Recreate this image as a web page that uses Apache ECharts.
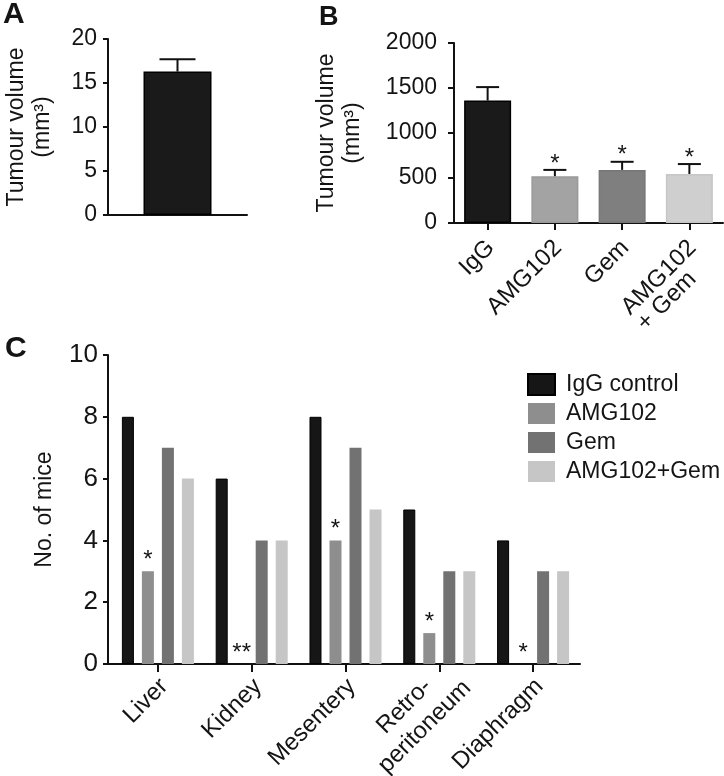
<!DOCTYPE html>
<html><head><meta charset="utf-8">
<script src="https://cdn.jsdelivr.net/npm/echarts@6/dist/echarts.min.js"></script>
<style>html,body{margin:0;padding:0;background:#fff}#c{width:724px;height:776px}</style>
</head><body><div id="c"></div>
<script>
// ---------- data ----------
const catA = ['Tumour'];
const meanA = [16.3];
const semA = [1.4];
const ticksA = [0, 5, 10, 15, 20];

const catB = ['IgG', 'AMG102', 'Gem', 'AMG102\n+ Gem'];
const meanB = [1360, 520, 590, 545];
const semB = [150, 70, 90, 110];
const sigB = ['', '*', '*', '*'];
const ticksB = [0, 500, 1000, 1500, 2000];

const organs = ['Liver', 'Kidney', 'Mesentery', 'Retro-\nperitoneum', 'Diaphragm'];
const seriesNames = ['IgG control', 'AMG102', 'Gem', 'AMG102+Gem'];
const iggC = [8, 6, 8, 5, 4];
const amgC = [3, 0, 4, 1, 0];
const gemC = [7, 4, 7, 3, 3];
const comboC = [6, 4, 5, 3, 3];
const sigC = ['*', '**', '*', '*', '*'];
const ticksC = [0, 2, 4, 6, 8, 10];

// ---------- styles ----------
const FONT = "'Liberation Sans', Arial, Helvetica, sans-serif";
const TXT = '#141414';
const LINE = '#111';
const colorsB = ['#1a1a1a', '#a3a3a3', '#7f7f7f', '#cfcfcf'];
const bordersB = ['#000', '#999', '#777', '#c6c6c6'];
const colorsC = ['#161616', '#8e8e8e', '#727272', '#c6c6c6'];

function range(t) { return { min: t[0], max: t[t.length - 1], interval: t[1] - t[0] }; }
const axisLine = { show: true, lineStyle: { color: LINE, width: 2 } };
const yTick = { show: true, length: 5, lineStyle: { color: LINE, width: 2 } };

function multi(v) { return v.split('\n').map(s => '{c|' + s + '}').join('\n'); }
// per-label nudges (label style only)
function catItems(list, special, pad, padSpecial) {
  return list.map(v => ({ value: v, textStyle: { padding: v === special ? padSpecial : pad } }));
}

function errRender(capW, marks) {
  return function (params, api) {
    const i = api.value(0), m = api.value(1), e = api.value(2);
    const p0 = api.coord([i, m]);
    const p1 = api.coord([i, m + e]);
    const ls = { stroke: LINE, lineWidth: 2 };
    const ch = [
      { type: 'line', shape: { x1: p0[0], y1: p0[1], x2: p1[0], y2: p1[1] }, style: ls },
      { type: 'line', shape: { x1: p1[0] - capW / 2, y1: p1[1], x2: p1[0] + capW / 2, y2: p1[1] }, style: ls }
    ];
    const s = marks && marks[params.dataIndex];
    if (s) ch.push({ type: 'text', x: p1[0], y: p1[1] - 6,
      style: { text: s, fill: TXT, font: '24px ' + FONT, align: 'center', verticalAlign: 'middle' } });
    return { type: 'group', children: ch };
  };
}

const chart = echarts.init(document.getElementById('c'), null, { renderer: 'canvas' });
const option = {
  backgroundColor: '#fff',
  animation: false,
  textStyle: { fontFamily: FONT, color: TXT },
  graphic: [
    { type: 'text', left: 3, top: 0, style: { text: 'A', font: 'bold 30px ' + FONT, fill: TXT } },
    { type: 'text', left: 319, top: 4, style: { text: 'B', font: 'bold 27px ' + FONT, fill: TXT } },
    { type: 'text', left: 5, top: 334, style: { text: 'C', font: 'bold 30px ' + FONT, fill: TXT } },
    // small extensions of the x axis lines to the left of the y axes
    { type: 'line', shape: { x1: 104, y1: 215, x2: 109, y2: 215 }, style: { stroke: LINE, lineWidth: 2 } },
    { type: 'line', shape: { x1: 448, y1: 223, x2: 455, y2: 223 }, style: { stroke: LINE, lineWidth: 2 } },
    { type: 'line', shape: { x1: 104, y1: 664, x2: 112, y2: 664 }, style: { stroke: LINE, lineWidth: 2 } }
  ],
  legend: {
    data: seriesNames, orient: 'vertical', left: 527, top: 373, padding: 0,
    itemWidth: 27, itemHeight: 21, itemGap: 6, icon: 'rect',
    textStyle: { fontSize: 23, fontFamily: FONT, color: TXT, lineHeight: 21, padding: [0, 0, 0, 6] }
  },
  grid: [
    { left: 108, top: 39, width: 139, height: 176, outerBoundsMode: 'none', containLabel: false },
    { left: 454, top: 43, width: 269, height: 180, outerBoundsMode: 'none', containLabel: false },
    { left: 111, top: 355, width: 469, height: 309, outerBoundsMode: 'none', containLabel: false }
  ],
  xAxis: [
    { gridIndex: 0, type: 'category', data: catA, axisLine: axisLine, axisTick: { show: false }, axisLabel: { show: false } },
    { gridIndex: 1, type: 'category', data: catItems(catB, 'AMG102\n+ Gem', [9, 0, 0, 0], [31, 0, 0, 0]), axisLine: axisLine,
      axisTick: { show: true, alignWithLabel: true, length: 7, lineStyle: { color: LINE, width: 2 } },
      axisLabel: { rotate: 45, margin: 18, fontSize: 24, color: TXT, fontFamily: FONT, formatter: multi,
        rich: { c: { align: 'left', fontSize: 24, fontFamily: FONT, color: TXT, lineHeight: 22 } } } },
    { gridIndex: 2, type: 'category', data: catItems(organs, 'Retro-\nperitoneum', [10, -4, 0, 0], [14, -18, 0, 0]), axisLine: axisLine,
      axisTick: { show: true, alignWithLabel: true, length: 8, lineStyle: { color: LINE, width: 2 } },
      axisLabel: { rotate: 45, margin: 18, fontSize: 24, color: TXT, fontFamily: FONT, formatter: multi,
        rich: { c: { align: 'center', fontSize: 24, fontFamily: FONT, color: TXT, lineHeight: 29 } } } }
  ],
  yAxis: [
    Object.assign({ gridIndex: 0, type: 'value', name: 'Tumour volume\n(mm³)', nameLocation: 'middle', nameRotate: 90, nameGap: 52,
      nameTextStyle: { fontSize: 23, lineHeight: 26, fontFamily: FONT, color: TXT },
      axisLine: axisLine, axisTick: yTick, splitLine: { show: false },
      axisLabel: { fontSize: 23, margin: 11, color: TXT, fontFamily: FONT } }, range(ticksA)),
    Object.assign({ gridIndex: 1, type: 'value', name: 'Tumour volume\n(mm³)', nameLocation: 'middle', nameRotate: 90, nameGap: 88,
      nameTextStyle: { fontSize: 23, lineHeight: 26, fontFamily: FONT, color: TXT },
      axisLine: axisLine, axisTick: Object.assign({}, yTick, { length: 6 }), splitLine: { show: false },
      axisLabel: { fontSize: 23, margin: 17, color: TXT, fontFamily: FONT, formatter: v => String(v) } }, range(ticksB)),
    Object.assign({ gridIndex: 2, type: 'value', name: 'No. of mice', nameLocation: 'middle', nameRotate: 90, nameGap: 52, offset: 3,
      nameTextStyle: { fontSize: 23, fontFamily: FONT, color: TXT },
      axisLine: axisLine, axisTick: yTick, splitLine: { show: false },
      axisLabel: { fontSize: 26, margin: 10, color: TXT, fontFamily: FONT } }, range(ticksC))
  ],
  series: [
    { type: 'bar', xAxisIndex: 0, yAxisIndex: 0, data: meanA, barWidth: 68,
      itemStyle: { color: '#1a1a1a', borderColor: '#000', borderWidth: 1.5 } },
    { type: 'custom', xAxisIndex: 0, yAxisIndex: 0, data: meanA.map((m, i) => [i, m, semA[i]]),
      renderItem: errRender(36, null), z: 5 },
    { type: 'bar', xAxisIndex: 1, yAxisIndex: 1, barWidth: 47,
      data: meanB.map((v, i) => ({ value: v, itemStyle: { color: colorsB[i], borderColor: bordersB[i], borderWidth: 1.5 } })) },
    { type: 'custom', xAxisIndex: 1, yAxisIndex: 1, data: meanB.map((m, i) => [i, m, semB[i]]),
      renderItem: errRender(23, sigB), z: 5 },
    { name: seriesNames[0], type: 'bar', xAxisIndex: 2, yAxisIndex: 2, data: iggC, barWidth: 12, barGap: '66.7%',
      itemStyle: { color: colorsC[0], borderColor: '#000', borderWidth: 1 } },
    { name: seriesNames[1], type: 'bar', xAxisIndex: 2, yAxisIndex: 2, data: amgC, barWidth: 12, barGap: '66.7%',
      itemStyle: { color: colorsC[1] },
      label: { show: true, position: 'top', distance: -1, formatter: p => sigC[p.dataIndex], fontSize: 24, fontFamily: FONT, color: TXT } },
    { name: seriesNames[2], type: 'bar', xAxisIndex: 2, yAxisIndex: 2, data: gemC, barWidth: 12, barGap: '66.7%',
      itemStyle: { color: colorsC[2] } },
    { name: seriesNames[3], type: 'bar', xAxisIndex: 2, yAxisIndex: 2, data: comboC, barWidth: 12, barGap: '66.7%',
      itemStyle: { color: colorsC[3] } }
  ]
};
chart.setOption(option);
</script></body></html>
